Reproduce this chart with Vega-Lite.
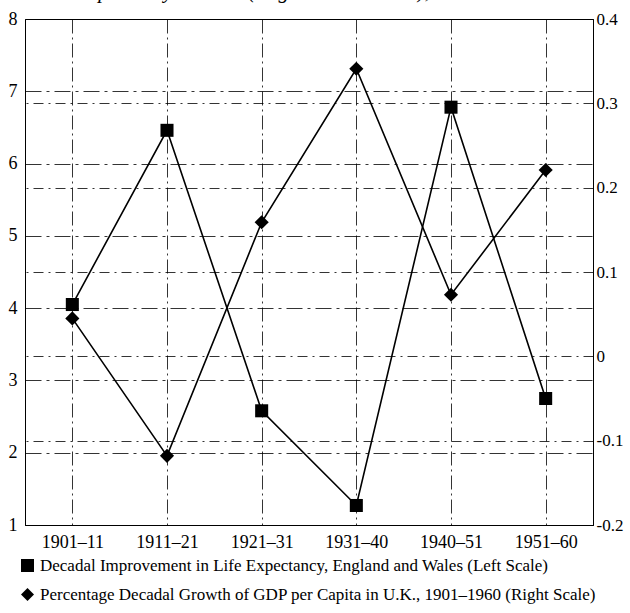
{
  "$schema": "https://vega.github.io/schema/vega-lite/v6.json",
  "autosize": {"type": "none"},
  "width": 568,
  "height": 506,
  "padding": {"left": 25, "top": 19, "right": 37, "bottom": 88},
  "background": "white",
  "config": {
    "view": {"stroke": "black", "strokeWidth": 1},
    "font": "Liberation Serif"
  },
  "title": {
    "text": "Expectancy at Birth (England and Wales), 1901–1960",
    "font": "Liberation Serif",
    "fontStyle": "italic",
    "fontWeight": "normal",
    "fontSize": 21,
    "color": "black",
    "anchor": "middle",
    "dx": -6,
    "dy": 13,
    "baseline": "bottom",
    "offset": 0
  },
  "data": {
    "values": [
      {"period": "1901–11", "life": 4.05, "gdp": 0.045},
      {"period": "1911–21", "life": 6.46, "gdp": -0.118},
      {"period": "1921–31", "life": 2.58, "gdp": 0.159},
      {"period": "1931–40", "life": 1.27, "gdp": 0.341},
      {"period": "1940–51", "life": 6.78, "gdp": 0.073},
      {"period": "1951–60", "life": 2.75, "gdp": 0.221}
    ]
  },
  "encoding": {
    "x": {
      "field": "period",
      "type": "ordinal",
      "sort": null,
      "scale": {"type": "point", "padding": 0.5},
      "axis": {
        "title": null,
        "labelAngle": 0,
        "ticks": false,
        "grid": true,
        "gridColor": "black",
        "gridDash": [14, 4, 2, 4],
        "gridWidth": 0.8,
        "domainColor": "black",
        "labelFont": "Liberation Serif",
        "labelFontSize": 18,
        "labelColor": "black",
        "labelPadding": 8
      }
    }
  },
  "layer": [
    {
      "encoding": {
        "y": {
          "field": "life",
          "type": "quantitative",
          "scale": {"domain": [1, 8], "nice": false, "zero": false},
          "axis": {
            "title": null,
            "orient": "left",
            "values": [1, 2, 3, 4, 5, 6, 7, 8],
            "ticks": false,
            "grid": true,
            "gridColor": "black",
            "gridDash": [16, 5, 3, 5],
            "gridWidth": 0.8,
            "domainColor": "black",
            "labelFont": "Liberation Serif",
            "labelFontSize": 18,
            "labelColor": "black",
            "labelPadding": 8
          }
        }
      },
      "layer": [
        {"mark": {"type": "line", "color": "black", "strokeWidth": 1.6}},
        {
          "mark": {"type": "point", "filled": true, "color": "black", "opacity": 1, "size": 170},
          "encoding": {
            "shape": {
              "datum": "Decadal Improvement in Life Expectancy, England and Wales (Left Scale)",
              "type": "nominal",
              "scale": {
                "domain": [
                  "Decadal Improvement in Life Expectancy, England and Wales (Left Scale)",
                  "Percentage Decadal Growth of GDP per Capita in U.K., 1901–1960 (Right Scale)"
                ],
                "range": ["square", "diamond"]
              },
              "legend": {
                "title": null,
                "orient": "none",
                "legendX": -6,
                "legendY": 538,
                "direction": "vertical",
                "padding": 0,
                "symbolFillColor": "black",
                "symbolStrokeColor": "black",
                "symbolSize": 170,
                "symbolOpacity": 1,
                "labelFont": "Liberation Serif",
                "labelFontSize": 17,
                "labelColor": "black",
                "labelLimit": 0,
                "labelOffset": 4,
                "rowPadding": 8
              }
            }
          }
        }
      ]
    },
    {
      "encoding": {
        "y": {
          "field": "gdp",
          "type": "quantitative",
          "scale": {"domain": [-0.2, 0.4], "nice": false, "zero": false},
          "axis": {
            "title": null,
            "orient": "right",
            "values": [-0.2, -0.1, 0, 0.1, 0.2, 0.3, 0.4],
            "labelExpr": "datum.value === 0 ? '0' : replace(format(datum.value, '.1f'), '−', '-')",
            "ticks": false,
            "grid": true,
            "gridColor": "black",
            "gridDash": [10, 5, 2, 5],
            "gridWidth": 0.8,
            "domainColor": "black",
            "labelFont": "Liberation Serif",
            "labelFontSize": 17,
            "labelColor": "black",
            "labelPadding": 3
          }
        }
      },
      "layer": [
        {"mark": {"type": "line", "color": "black", "strokeWidth": 1.6}},
        {
          "mark": {"type": "point", "filled": true, "color": "black", "opacity": 1, "size": 200},
          "encoding": {
            "shape": {
              "datum": "Percentage Decadal Growth of GDP per Capita in U.K., 1901–1960 (Right Scale)",
              "type": "nominal"
            }
          }
        }
      ]
    }
  ],
  "resolve": {"scale": {"y": "independent"}}
}
